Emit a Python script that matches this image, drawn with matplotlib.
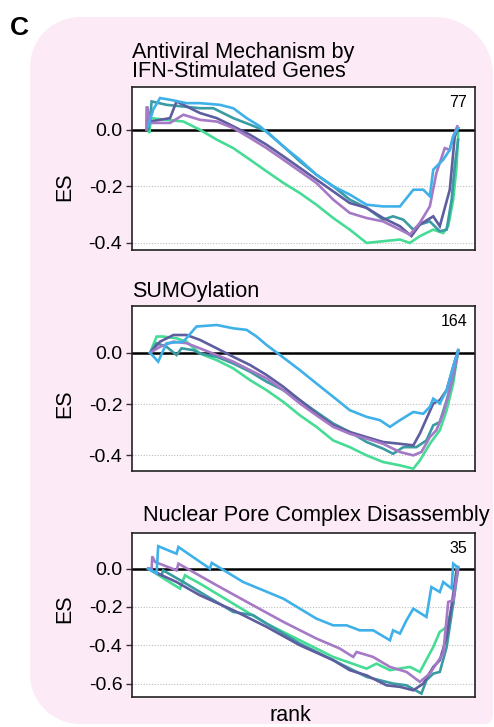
# running enrichment score curves for three reactome sets, 5 conditions each

import numpy as np
import matplotlib.pyplot as plt
from matplotlib.patches import Polygon

plt.rcParams['font.family'] = ['Liberation Sans', 'DejaVu Sans']
plt.rcParams['axes.unicode_minus'] = False

W, H = 494, 727

colors = {'green': '#46dc95', 'teal': '#3a9ba2', 'slate': '#5e5d9f',
          'lavender': '#a679c6', 'blue': '#3fb1e8'}

titles = ['Antiviral Mechanism by\nIFN-Stimulated Genes', 'SUMOylation',
          'Nuclear Pore Complex Disassembly']
set_sizes = [77, 164, 35]

# panel 1 - rank fraction / ES
p1_rank = {
    'green': [0.005, 0.009, 0.013, 0.064, 0.118, 0.171, 0.225, 0.278, 0.332, 0.385, 0.439, 0.492, 0.545,
              0.599, 0.652, 0.706, 0.759, 0.813, 0.845, 0.877, 0.920, 0.952, 0.968, 0.984, 0.995, 1.0],
    'teal': [0.005, 0.011, 0.016, 0.064, 0.118, 0.171, 0.214, 0.278, 0.332, 0.385, 0.439, 0.492, 0.545,
             0.599, 0.652, 0.706, 0.759, 0.791, 0.824, 0.856, 0.877, 0.909, 0.941, 0.963, 0.979, 0.989, 1.0],
    'slate': [0.0, 0.001, 0.011, 0.075, 0.096, 0.171, 0.225, 0.278, 0.332, 0.385, 0.439, 0.492, 0.545,
              0.599, 0.652, 0.706, 0.759, 0.813, 0.850, 0.877, 0.920, 0.941, 0.973, 0.989, 1.0],
    'lavender': [0.0, 0.001, 0.011, 0.075, 0.118, 0.171, 0.225, 0.278, 0.332, 0.385, 0.439, 0.492, 0.545,
                 0.599, 0.652, 0.706, 0.759, 0.813, 0.845, 0.877, 0.909, 0.930, 0.957, 0.973, 0.984, 0.997],
    'blue': [0.005, 0.021, 0.043, 0.075, 0.128, 0.171, 0.235, 0.278, 0.321, 0.364, 0.439, 0.492, 0.545,
             0.599, 0.652, 0.706, 0.759, 0.813, 0.856, 0.888, 0.909, 0.920, 0.952, 0.973, 0.984, 1.0],
}
p1_es = {
    'green': [0, -0.012, 0.041, 0.035, 0.029, 0, -0.035, -0.065, -0.106, -0.147, -0.188, -0.224, -0.265,
              -0.312, -0.353, -0.4, -0.394, -0.388, -0.4, -0.376, -0.353, -0.365, -0.341, -0.247, -0.129, -0.012],
    'teal': [0, 0.035, 0.1, 0.088, 0.082, 0.076, 0.076, 0.041, 0.018, -0.006, -0.059, -0.112, -0.159,
             -0.2, -0.247, -0.276, -0.318, -0.306, -0.318, -0.353, -0.335, -0.324, -0.359, -0.353, -0.247, -0.129, -0.035],
    'slate': [0, 0.082, 0.029, 0.041, 0.1, 0.059, 0.041, 0.012, -0.018, -0.053, -0.094, -0.135, -0.176,
              -0.218, -0.259, -0.276, -0.312, -0.341, -0.376, -0.335, -0.306, -0.341, -0.212, -0.024, 0.006],
    'lavender': [0, 0.082, 0.024, 0.024, 0.053, 0.035, 0.029, 0.006, -0.029, -0.065, -0.106, -0.147, -0.188,
                 -0.247, -0.294, -0.312, -0.324, -0.353, -0.371, -0.329, -0.271, -0.153, -0.065, -0.071, -0.024, 0.012],
    'blue': [0.012, 0.071, 0.112, 0.106, 0.094, 0.094, 0.088, 0.076, 0.041, 0.012, -0.059, -0.106, -0.159,
             -0.2, -0.229, -0.265, -0.271, -0.271, -0.212, -0.212, -0.235, -0.141, -0.106, -0.071, -0.024, 0.006],
}

# panel 2
p2_rank = {
    'green': [0.011, 0.032, 0.053, 0.096, 0.128, 0.171, 0.225, 0.278, 0.332, 0.385, 0.439, 0.492, 0.545,
              0.599, 0.652, 0.706, 0.759, 0.813, 0.856, 0.877, 0.909, 0.941, 0.963, 0.984, 1.0],
    'teal': [0.011, 0.032, 0.064, 0.096, 0.112, 0.150, 0.171, 0.225, 0.278, 0.332, 0.385, 0.439, 0.492,
             0.545, 0.599, 0.652, 0.706, 0.759, 0.791, 0.824, 0.866, 0.898, 0.920, 0.941, 0.963, 0.984, 1.0],
    'slate': [0.011, 0.043, 0.086, 0.128, 0.171, 0.225, 0.278, 0.332, 0.385, 0.439, 0.492, 0.545, 0.599,
              0.652, 0.706, 0.759, 0.813, 0.856, 0.877, 0.920, 0.941, 0.963, 0.984, 1.0],
    'lavender': [0.011, 0.043, 0.086, 0.128, 0.171, 0.225, 0.278, 0.332, 0.385, 0.439, 0.492, 0.545, 0.599,
                 0.652, 0.706, 0.759, 0.813, 0.856, 0.882, 0.909, 0.930, 0.952, 0.973, 1.0],
    'blue': [0.011, 0.037, 0.064, 0.118, 0.160, 0.225, 0.278, 0.321, 0.353, 0.385, 0.428, 0.492, 0.545,
             0.599, 0.652, 0.706, 0.749, 0.781, 0.813, 0.856, 0.888, 0.909, 0.920, 0.941, 0.963, 0.984, 1.0],
}
p2_es = {
    'green': [0, 0.063, 0.063, 0.056, 0.043, -0.003, -0.029, -0.061, -0.107, -0.146, -0.192, -0.244, -0.289,
              -0.342, -0.368, -0.4, -0.426, -0.439, -0.452, -0.42, -0.355, -0.302, -0.224, -0.12, 0.01],
    'teal': [0, 0.037, 0.023, -0.009, 0.017, 0.01, -0.003, -0.016, -0.042, -0.074, -0.113, -0.146, -0.185,
             -0.231, -0.276, -0.309, -0.348, -0.374, -0.394, -0.368, -0.368, -0.342, -0.283, -0.27, -0.185, -0.094, 0.004],
    'slate': [0, 0.043, 0.069, 0.069, 0.05, 0.017, -0.016, -0.048, -0.087, -0.133, -0.185, -0.237, -0.283,
              -0.309, -0.329, -0.348, -0.355, -0.361, -0.315, -0.198, -0.185, -0.146, -0.055, 0.01],
    'lavender': [0, 0.023, 0.043, 0.037, 0.017, -0.009, -0.035, -0.068, -0.1, -0.146, -0.198, -0.244, -0.289,
                 -0.316, -0.335, -0.355, -0.387, -0.4, -0.387, -0.329, -0.302, -0.237, -0.146, 0.004],
    'blue': [0, -0.035, 0.037, 0.043, 0.102, 0.108, 0.095, 0.089, 0.063, 0.03, -0.009, -0.068, -0.12,
             -0.172, -0.224, -0.25, -0.263, -0.289, -0.263, -0.231, -0.238, -0.211, -0.179, -0.198, -0.146, -0.055, 0.01],
}

# panel 3
p3_rank = {
    'green': [0.005, 0.064, 0.107, 0.123, 0.171, 0.278, 0.385, 0.492, 0.599, 0.706, 0.738, 0.781, 0.845,
              0.877, 0.920, 0.941, 0.963, 0.984, 0.995],
    'teal': [0.005, 0.048, 0.053, 0.118, 0.171, 0.278, 0.342, 0.385, 0.492, 0.599, 0.706, 0.791, 0.834,
             0.882, 0.898, 0.920, 0.941, 0.963, 0.984, 1.0],
    'slate': [0.005, 0.037, 0.096, 0.171, 0.278, 0.385, 0.492, 0.599, 0.652, 0.706, 0.770, 0.813, 0.856,
              0.888, 0.920, 0.941, 0.963, 0.979, 0.995],
    'lavender': [0.005, 0.016, 0.018, 0.027, 0.096, 0.102, 0.225, 0.332, 0.439, 0.545, 0.620, 0.663, 0.674,
                 0.727, 0.781, 0.834, 0.877, 0.909, 0.952, 0.968, 0.984, 1.0],
    'blue': [0.005, 0.032, 0.037, 0.096, 0.102, 0.203, 0.209, 0.310, 0.374, 0.439, 0.492, 0.545, 0.599,
             0.642, 0.684, 0.727, 0.781, 0.791, 0.813, 0.834, 0.856, 0.898, 0.914, 0.941, 0.952, 0.979,
             0.984, 1.0],
}
p3_es = {
    'green': [0, -0.061, -0.104, -0.035, -0.078, -0.183, -0.287, -0.374, -0.461, -0.522, -0.496, -0.53, -0.513,
              -0.539, -0.409, -0.33, -0.304, -0.183, 0.009],
    'teal': [0, -0.035, -0.009, -0.07, -0.122, -0.226, -0.243, -0.287, -0.391, -0.478, -0.565, -0.6, -0.609,
             -0.652, -0.583, -0.548, -0.539, -0.409, -0.183, 0.0],
    'slate': [0, -0.026, -0.07, -0.139, -0.217, -0.304, -0.4, -0.478, -0.53, -0.557, -0.609, -0.617, -0.635,
              -0.6, -0.513, -0.478, -0.357, -0.191, -0.009],
    'lavender': [0, 0, 0.064, 0.035, -0.009, 0.026, -0.087, -0.183, -0.278, -0.365, -0.417, -0.461, -0.435,
                 -0.461, -0.513, -0.539, -0.591, -0.548, -0.443, -0.174, -0.165, 0.009],
    'blue': [0, -0.026, 0.117, 0.078, 0.113, 0, 0.03, -0.07, -0.113, -0.157, -0.209, -0.261, -0.296,
             -0.296, -0.322, -0.322, -0.374, -0.322, -0.339, -0.27, -0.209, -0.252, -0.096, -0.122, -0.07,
             -0.104, 0.026, 0.005],
}

yticks = [[0.0, -0.2, -0.4], [0.0, -0.2, -0.4], [0.0, -0.2, -0.4, -0.6]]
ylims = [(-0.425, 0.151), (-0.461, 0.182), (-0.670, 0.186)]


def px(x, y):
    # pixel (y down) -> figure fraction
    return x / W, 1 - y / H


def rounded_box(x0, y0, x1, y1, r_tl, r_tr, r_br, r_bl):
    top, bot = H - y0, H - y1
    pts = []
    for cx, cy, r, a0 in [(x1 - r_tr, top - r_tr, r_tr, 0), (x0 + r_tl, top - r_tl, r_tl, 90),
                          (x0 + r_bl, bot + r_bl, r_bl, 180), (x1 - r_br, bot + r_br, r_br, 270)]:
        t = np.radians(np.linspace(a0, a0 + 90, 30))
        pts += list(zip((cx + r * np.cos(t)) / W, (cy + r * np.sin(t)) / H))
    return pts


def draw_panel(ax, ranks, es, ticks, ylim, n):
    for t in ticks:
        if t != 0:
            ax.axhline(t, color='#bdbdbd', lw=0.8, ls=(0, (1, 1.5)), zorder=1)
    ax.axhline(0, color='black', lw=1.8, zorder=2)
    for key in ['green', 'teal', 'slate', 'lavender', 'blue']:
        ax.plot(ranks[key], es[key], color=colors[key], lw=1.9, zorder=3, solid_joinstyle='miter')
    ax.set_xlim(-0.047, 1.054)
    ax.set_ylim(*ylim)
    ax.set_yticks(ticks)
    ax.set_yticklabels(['%.1f' % t for t in ticks])
    ax.set_xticks([])
    ax.tick_params(axis='y', labelsize=14, length=4, width=1, pad=3, color='#333333')
    for s in ax.spines.values():
        s.set_linewidth(1.2)
        s.set_color('#222222')
    ax.text(0.977, 0.878, str(n), transform=ax.transAxes, ha='right', va='baseline', fontsize=11.5)


fig = plt.figure(figsize=(W / 100, H / 100), dpi=100)

bg = Polygon(rounded_box(30, 17, 493, 724, 50, 58, 8, 50), closed=True,
             transform=fig.transFigure, facecolor='#fcebf6', edgecolor='none', zorder=-5)
fig.patches.append(bg)

# axes boxes in pixels: (top, bottom)
boxes = [(87, 250), (306, 471), (533, 697)]
data = [(p1_rank, p1_es), (p2_rank, p2_es), (p3_rank, p3_es)]
for k, (top, bottom) in enumerate(boxes):
    ax = fig.add_axes([132 / W, 1 - bottom / H, 343 / W, (bottom - top) / H])
    ax.set_zorder(1)
    draw_panel(ax, data[k][0], data[k][1], yticks[k], ylims[k], set_sizes[k])

fig.text(*px(132, 77), titles[0], ha='left', va='baseline', fontsize=15.6, linespacing=0.9)
fig.text(*px(132, 297), titles[1], ha='left', va='baseline', fontsize=15.6)
fig.text(*px(143, 521), titles[2], ha='left', va='baseline', fontsize=15.7)

for y in [187, 404, 609]:
    fig.text(*px(65, y), 'ES', rotation=90, ha='center', va='center', fontsize=15.5)
fig.text(*px(290, 721), 'rank', ha='center', va='baseline', fontsize=15.5)
fig.text(*px(10, 35), 'C', ha='left', va='baseline', fontsize=19, fontweight='bold')

fig.savefig('out.png', dpi=100)
